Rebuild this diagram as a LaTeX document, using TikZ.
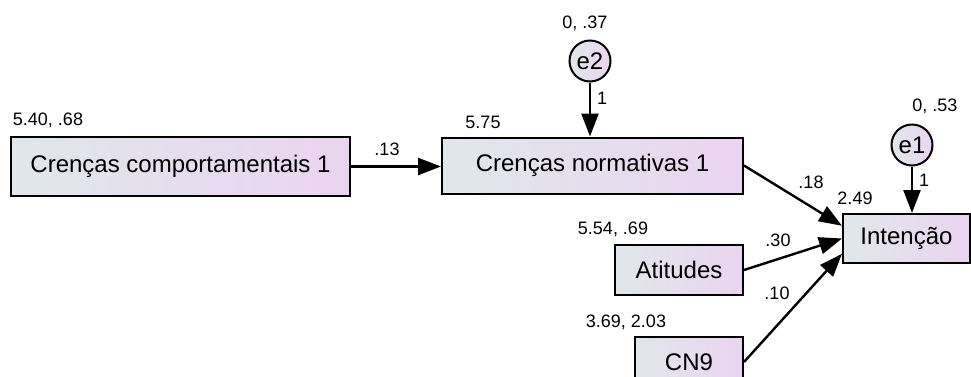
\documentclass[tikz,border=0pt]{standalone}
\usepackage{fontspec}
\setmainfont{Liberation Sans}
\usetikzlibrary{arrows.meta,calc}

\definecolor{boxleft}{RGB}{224,231,235}
\definecolor{boxright}{RGB}{235,212,241}

\tikzset{
  >={Triangle[length=11.5pt,width=8.5pt]},
  box/.style={draw, line width=1pt, left color=boxleft, right color=boxright,
    font=\fontsize{12}{14}\selectfont, inner sep=0pt},
  errc/.style={draw, circle, line width=1pt, left color=boxleft, right color=boxright,
    minimum size=20.5pt, inner sep=0pt, font=\fontsize{12}{14}\selectfont},
  lbl/.style={inner sep=0pt, font=\fontsize{9}{11}\selectfont},
  path/.style={->, line width=1.2pt}
}

\begin{document}
\begin{tikzpicture}[x=0.5pt,y=-0.5pt]
        \useasboundingbox (0,0) rectangle (971,376);
        \clip (0,0) rectangle (971,376);
        % observed variables
        \node[box, minimum width=169.5pt, minimum height=29.5pt] (cc1) at (180.5,166.5) {Crenças comportamentais 1};
        \node[box, minimum width=150.5pt, minimum height=28pt] (cn1) at (592.5,165.5) {Crenças normativas 1};
        \node[box, minimum width=63.5pt, minimum height=24.5pt] (int) at (906.5,238.5) {Intenção};
        \node[box, minimum width=64pt, minimum height=25pt] (ati) at (679,270) {Atitudes};
        \node[box, minimum width=54pt, minimum height=25pt] (cn9) at (689,362) {CN9};
        % errors
        \node[errc] (e2) at (590,61) {e2};
        \node[errc] (e1) at (912,145) {e1};
        % estimates
        \node[lbl] (m1) at (48,120) {5.40, .68};
        \node[lbl] (m2) at (483,122) {5.75};
        \node[lbl] (m3) at (585,23) {0, .37};
        \node[lbl] (m4) at (935,106) {0, .53};
        \node[lbl] (m5) at (855,198) {2.49};
        \node[lbl] (m6) at (613,229) {5.54, .69};
        \node[lbl] (m7) at (626,322) {3.69, 2.03};
        % paths
        \draw[path] (cc1.east) -- node[lbl, above=5pt, pos=0.4]{.13} (cc1.east -| cn1.west);
        \draw[path] (e2) -- node[lbl, right=3pt, pos=0.3]{1} (e2 |- cn1.north);
        \draw[path] (e1) -- node[lbl, right=3pt, pos=0.3]{1} (e1 |- int.north);
        \draw[path] (cn1.east) -- ($(int.north west)!0.25!(int.south west)$);
        \draw[path] (ati.east) -- (int.west);
        \draw[path] (cn9.east) -- ($(int.north west)!0.8!(int.south west)$);
        \node[lbl] (b1) at (811,182) {.18};
        \node[lbl] (b2) at (778,240) {.30};
        \node[lbl] (b3) at (777,293) {.10};
    \end{tikzpicture}
\end{document}
